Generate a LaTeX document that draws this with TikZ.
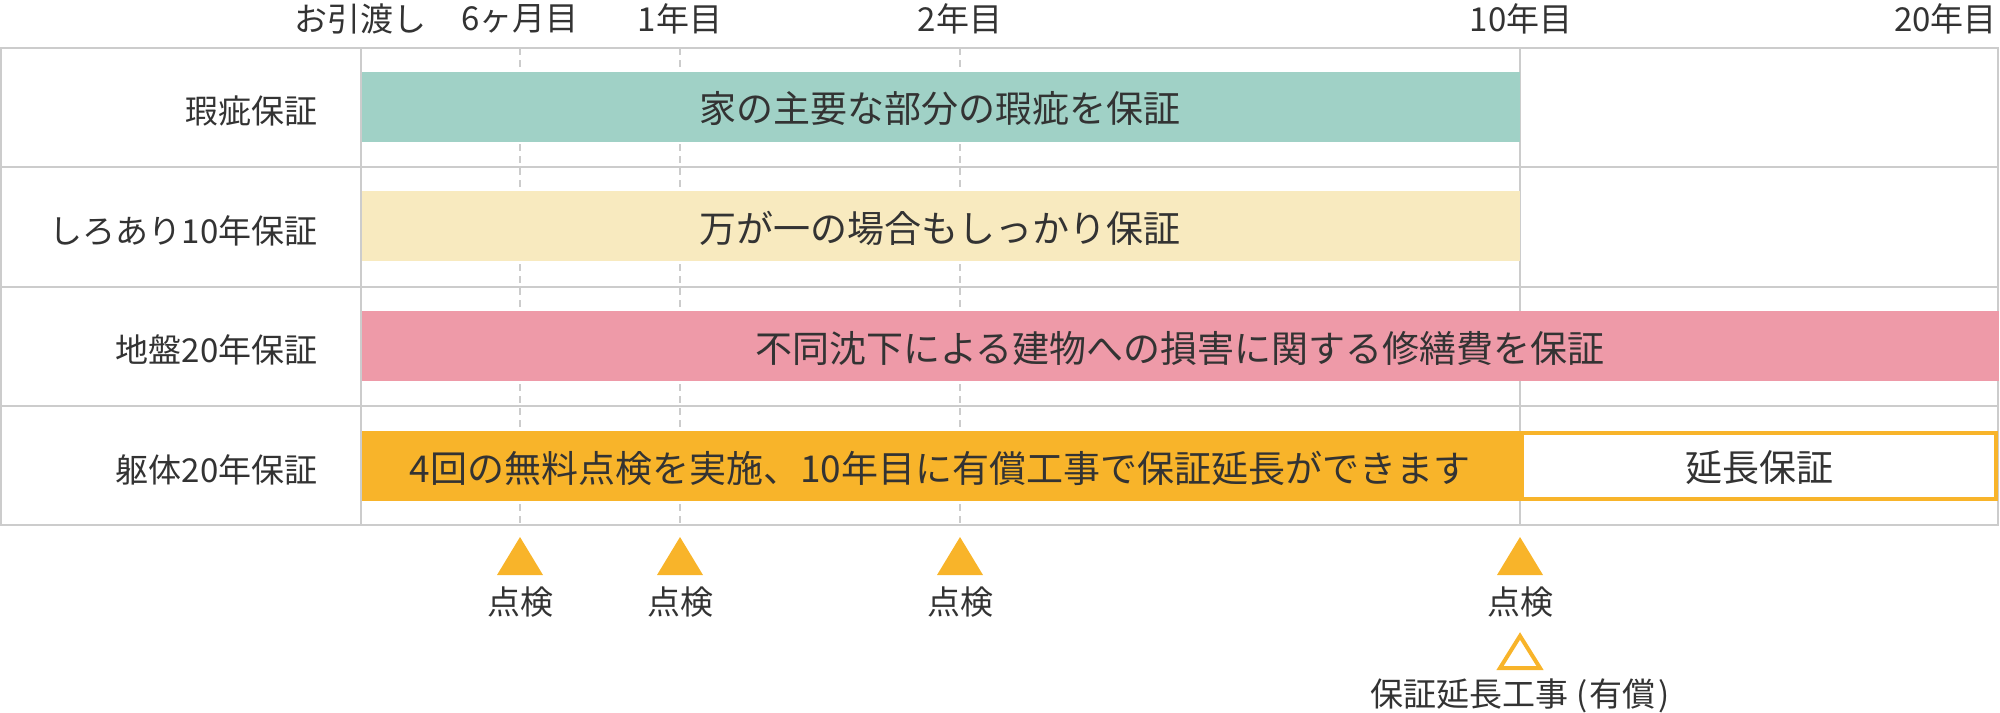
\documentclass[tikz,border=0pt]{standalone}
\usepackage{fontspec}
\setmainfont{Noto Sans CJK JP}
\definecolor{gridc}{HTML}{CCCCCC}
\definecolor{txtc}{HTML}{333333}
\definecolor{tealc}{HTML}{A0D1C6}
\definecolor{creamc}{HTML}{F8EABF}
\definecolor{pinkc}{HTML}{EE9AA8}
\definecolor{orangec}{HTML}{F8B42A}
\begin{document}
\begin{tikzpicture}[x=0.5pt,y=-0.5pt,
  gridline/.style={draw=gridc, line width=1pt},
  dashline/.style={draw=gridc, line width=1pt, dash pattern=on 3.5pt off 2.5pt},
  lbl/.style={text=txtc, inner sep=0pt, font=\fontsize{16.5}{18}\selectfont},
  bartext/.style={text=txtc, inner sep=0pt, font=\fontsize{18.5}{20}\selectfont},
  tri/.style={fill=orangec},
  otri/.style={draw=orangec, line width=2pt, line join=miter}]
\useasboundingbox (0,0) rectangle (2000,712);
% vertical guides behind bars
\foreach \xx in {520,680,960}{\draw[dashline] (\xx,48) -- (\xx,525);}
\draw[gridline] (1520,48) -- (1520,525);
\draw[gridline] (1998,48) -- (1998,525);
% bars
\fill[tealc] (361,72) rectangle (1520,142);
\fill[creamc] (361,191) rectangle (1520,261);
\fill[pinkc] (361,311) rectangle (1999,381);
\fill[orangec] (361,431) rectangle (1520,501);
\draw[orangec, line width=2pt] (1522,433) rectangle (1996,499);
% grid lines
\draw[gridline] (1,48) -- (1,525);
\draw[gridline] (361,48) -- (361,525);
\foreach \yy in {48,167,287,406,525}{\draw[gridline] (0,\yy) -- (1999,\yy);}
% top labels
\node[lbl] (t0) at (360,19) {お引渡し};
\node[lbl] (t6m) at (520,19) {6ヶ月目};
\node[lbl] (t1) at (680,19) {1年目};
\node[lbl] (t2) at (960,19) {2年目};
\node[lbl] (t10) at (1521,19) {10年目};
\node[lbl, anchor=east] (t20) at (1997,19) {20年目};
% row labels
\node[lbl, anchor=east] (r1) at (318,111) {瑕疵保証};
\node[lbl, anchor=east] (r2) at (318,231) {しろあり10年保証};
\node[lbl, anchor=east] (r3) at (318,350) {地盤20年保証};
\node[lbl, anchor=east] (r4) at (318,470) {躯体20年保証};
% bar texts
\node[bartext] (b1) at (940,109) {家の主要な部分の瑕疵を保証};
\node[bartext] (b2) at (940,228) {万が一の場合もしっかり保証};
\node[bartext] (b3) at (1180,348) {不同沈下による建物への損害に関する修繕費を保証};
\node[bartext] (b4) at (940,468) {4回の無料点検を実施、10年目に有償工事で保証延長ができます};
\node[bartext] (b5) at (1759,468) {延長保証};
% inspection markers
\foreach \xx/\nm in {520/a,680/b,960/c,1520/d}{
  \fill[tri] (\xx,537) -- (\xx+23,575) -- (\xx-23,575) -- cycle;
  \node[lbl] (k\nm) at (\xx,602) {点検};
}
\draw[otri] (1520,636) -- (1540,668) -- (1500,668) -- cycle;
\node[lbl] (ext) at (1520,696) {保証延長工事\hspace{3.75pt}(\hspace{1.25pt}有償\hspace{1.25pt})\hspace{3.75pt}};
\end{tikzpicture}
\end{document}
